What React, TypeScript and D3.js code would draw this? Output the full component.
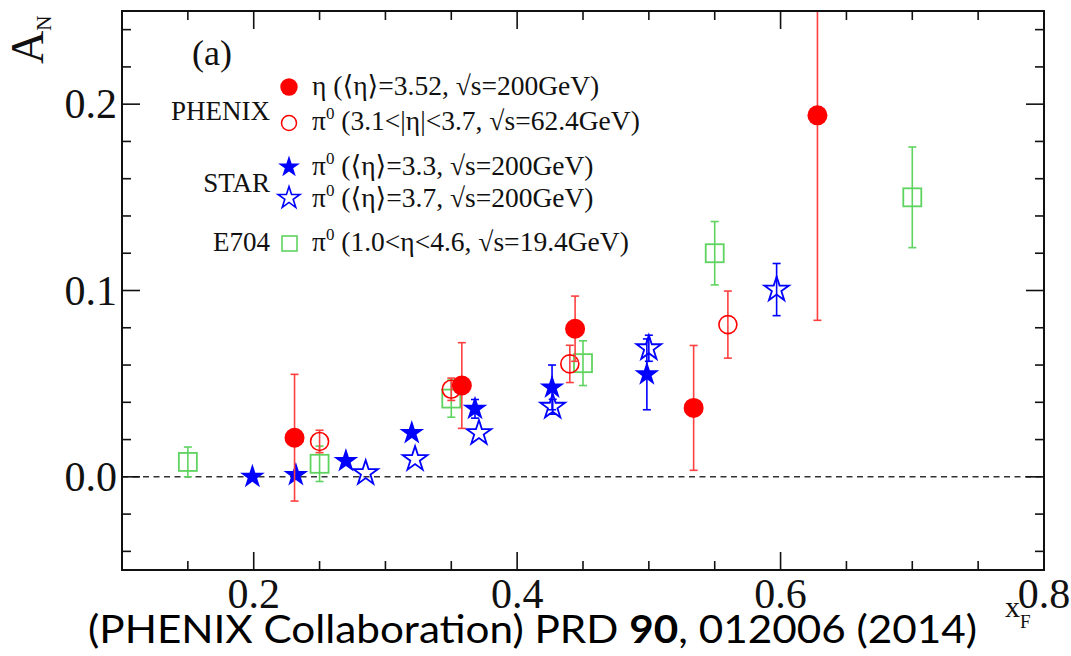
import React from "react";
import * as d3 from "d3";

// A_N vs x_F: [x_F, A_N, stat. error]
const phenixEta: [number, number, number][] = [
  [0.231, 0.021, 0.034],
  [0.358, 0.049, 0.023],
  [0.444, 0.0795, 0.0175],
  [0.534, 0.037, 0.0335],
  [0.628, 0.194, 0.11],
];
const phenixPi0: [number, number, number][] = [
  [0.25, 0.019, 0.006],
  [0.35, 0.047, 0.006],
  [0.44, 0.0606, 0.01],
  [0.56, 0.0817, 0.018],
];
const starPi0Low: [number, number, number][] = [
  [0.199, 0.0, 0],
  [0.232, 0.001, 0],
  [0.27, 0.0085, 0],
  [0.32, 0.0235, 0],
  [0.368, 0.0365, 0.005],
  [0.4265, 0.048, 0.012],
  [0.4985, 0.055, 0.019],
];
const starPi0High: [number, number, number][] = [
  [0.285, 0.002, 0],
  [0.3225, 0.0095, 0],
  [0.371, 0.0235, 0],
  [0.427, 0.0376, 0.004],
  [0.5, 0.069, 0.007],
  [0.597, 0.1005, 0.014],
];
const e704Pi0: [number, number, number][] = [
  [0.15, 0.008, 0.008],
  [0.25, 0.007, 0.0095],
  [0.35, 0.042, 0.01],
  [0.45, 0.061, 0.012],
  [0.55, 0.12, 0.017],
  [0.7, 0.15, 0.027],
];

const xMajor = [0.2, 0.4, 0.6, 0.8];
const xMinor = [0.15, 0.25, 0.3, 0.35, 0.45, 0.5, 0.55, 0.65, 0.7, 0.75];
const yMajor = [0.0, 0.1, 0.2];
const yMinor = [-0.04, -0.02, 0.02, 0.04, 0.06, 0.08, 0.12, 0.14, 0.16, 0.18, 0.22, 0.24];

const RED = "#ff0000";
const RED_ERR = "#ff4040";
const BLUE = "#0000ff";
const GREEN = "#5fd35f";
const SERIF = "'Liberation Serif', 'Times New Roman', 'DejaVu Serif', serif";

const W = 1071;
const H = 656;
const L = 122, R = 1044, T = 11, B = 570;

const x = d3.scaleLinear().domain([0.1, 0.8]).range([L, R]);
const y = d3.scaleLinear().domain([-0.05, 0.25]).range([B, T]);

const starPath = (outer: number) =>
  d3.symbol(d3.symbolStar, (outer * outer) / 0.8908130915292852)() as string;

function ErrorBars({ data, color }: { data: [number, number, number][]; color: string }) {
  return (
    <g stroke={color} strokeWidth={1.6} fill="none">
      {data
        .filter((d) => d[2] > 0)
        .map((d, i) => {
          const cx = x(d[0]);
          const top = Math.max(y(d[1] + d[2]), T);
          const bot = Math.min(y(d[1] - d[2]), B);
          return (
            <g key={i}>
              <line x1={cx} x2={cx} y1={top} y2={bot} />
              {y(d[1] + d[2]) >= T && <line x1={cx - 4} x2={cx + 4} y1={top} y2={top} />}
              {y(d[1] - d[2]) <= B && <line x1={cx - 4} x2={cx + 4} y1={bot} y2={bot} />}
            </g>
          );
        })}
    </g>
  );
}

function PiLabel({ yb, rest }: { yb: number; rest: string }) {
  return (
    <text x={312} y={yb}>
      π<tspan fontSize={17} dy={-11}>0</tspan>
      <tspan dy={11}>{" " + rest}</tspan>
    </text>
  );
}

export default function App() {
  const bigStar = starPath(13);
  const legStar = starPath(11.5);

  return (
    <svg
      width={W}
      height={H}
      viewBox={`0 0 ${W} ${H}`}
      style={{ position: "absolute", left: 0, top: 0, background: "#fff" }}
    >
      <rect x={0} y={0} width={W} height={H} fill="#fff" />
      <defs>
        <clipPath id="plotArea">
          <rect x={L} y={T} width={R - L} height={B - T} />
        </clipPath>
      </defs>

      {/* zero line */}
      <line
        x1={L}
        x2={R}
        y1={y(0)}
        y2={y(0)}
        stroke="#333"
        strokeWidth={1.5}
        strokeDasharray="6 4.5"
      />

      <g clipPath="url(#plotArea)">
        {/* E704 */}
        <ErrorBars data={e704Pi0} color={GREEN} />
        {e704Pi0.map((d, i) => (
          <rect
            key={i}
            x={x(d[0]) - 9}
            y={y(d[1]) - 9}
            width={18}
            height={18}
            fill="none"
            stroke={GREEN}
            strokeWidth={1.8}
          />
        ))}

        {/* STAR <eta>=3.7 */}
        <ErrorBars data={starPi0High} color={BLUE} />
        {starPi0High.map((d, i) => (
          <path
            key={i}
            d={bigStar}
            transform={`translate(${x(d[0])},${y(d[1])})`}
            fill="none"
            stroke={BLUE}
            strokeWidth={1.8}
          />
        ))}

        {/* STAR <eta>=3.3 */}
        <ErrorBars data={starPi0Low} color={BLUE} />
        {starPi0Low.map((d, i) => (
          <path
            key={i}
            d={bigStar}
            transform={`translate(${x(d[0])},${y(d[1])})`}
            fill={BLUE}
          />
        ))}

        {/* PHENIX pi0 */}
        <ErrorBars data={phenixPi0} color={RED_ERR} />
        {phenixPi0.map((d, i) => (
          <circle
            key={i}
            cx={x(d[0])}
            cy={y(d[1])}
            r={9}
            fill="none"
            stroke={RED}
            strokeWidth={1.6}
          />
        ))}

        {/* PHENIX eta */}
        <ErrorBars data={phenixEta} color={RED_ERR} />
        {phenixEta.map((d, i) => (
          <circle key={i} cx={x(d[0])} cy={y(d[1])} r={10} fill={RED} />
        ))}
      </g>

      {/* frame */}
      <rect x={L} y={T} width={R - L} height={B - T} fill="none" stroke="#111" strokeWidth={2} />

      {/* ticks */}
      <g stroke="#111" strokeWidth={1.6}>
        {xMajor.map((v) => (
          <g key={"xM" + v}>
            <line x1={x(v)} x2={x(v)} y1={B} y2={B - 18} />
            <line x1={x(v)} x2={x(v)} y1={T} y2={T + 18} />
          </g>
        ))}
        {xMinor.map((v) => (
          <g key={"xm" + v}>
            <line x1={x(v)} x2={x(v)} y1={B} y2={B - 9} />
            <line x1={x(v)} x2={x(v)} y1={T} y2={T + 9} />
          </g>
        ))}
        {yMajor.map((v) => (
          <g key={"yM" + v}>
            <line x1={L} x2={L + 18} y1={y(v)} y2={y(v)} />
            <line x1={R} x2={R - 18} y1={y(v)} y2={y(v)} />
          </g>
        ))}
        {yMinor.map((v) => (
          <g key={"ym" + v}>
            <line x1={L} x2={L + 9} y1={y(v)} y2={y(v)} />
            <line x1={R} x2={R - 9} y1={y(v)} y2={y(v)} />
          </g>
        ))}
      </g>

      {/* tick labels */}
      <g fontFamily={SERIF} fontSize={42} fill="#111">
        {yMajor.map((v) => (
          <text key={"yl" + v} x={117} y={y(v) + 14} textAnchor="end">
            {v.toFixed(1)}
          </text>
        ))}
        {xMajor.map((v) => (
          <text key={"xl" + v} x={x(v)} y={608} textAnchor="middle">
            {v.toFixed(1)}
          </text>
        ))}
      </g>

      {/* axis titles */}
      <g fontFamily={SERIF} fill="#111">
        <text transform="translate(43,64) rotate(-90)" fontSize={46}>
          A
          <tspan fontSize={21} dy={8}>
            N
          </tspan>
        </text>
        <text x={1005} y={617} fontSize={30}>
          x
          <tspan fontSize={19} dy={11}>
            F
          </tspan>
        </text>
        <text x={192} y={65} fontSize={36}>
          (a)
        </text>
      </g>

      {/* legend */}
      <g fontFamily={SERIF} fontSize={27.5} fill="#111">
        <text x={270} y={120} textAnchor="end" fontSize={27}>PHENIX</text>
        <text x={270} y={192} textAnchor="end" fontSize={27}>STAR</text>
        <text x={270} y={251} textAnchor="end" fontSize={27}>E704</text>

        <circle cx={289} cy={87} r={8.7} fill={RED} />
        <circle cx={289} cy={123} r={7.5} fill="none" stroke={RED} strokeWidth={1.5} />
        <path d={legStar} transform="translate(289,167)" fill={BLUE} />
        <path d={legStar} transform="translate(289,198)" fill="none" stroke={BLUE} strokeWidth={1.6} />
        <rect x={282} y={236} width={15} height={15} fill="none" stroke={GREEN} strokeWidth={1.6} />

        <text x={312} y={95}>
          η (⟨η⟩=3.52, √s=200GeV)
        </text>
        <PiLabel yb={130} rest="(3.1<|η|<3.7, √s=62.4GeV)" />
        <PiLabel yb={175} rest="(⟨η⟩=3.3, √s=200GeV)" />
        <PiLabel yb={207} rest="(⟨η⟩=3.7, √s=200GeV)" />
        <PiLabel yb={251} rest="(1.0<η<4.6, √s=19.4GeV)" />
      </g>

      {/* reference */}
      <text
        x={88}
        y={643}
        fontFamily="Lato, 'Open Sans', 'Liberation Sans', sans-serif"
        fontSize={38}
        fill="#000"
        textLength={889}
        lengthAdjust="spacingAndGlyphs"
      >
        (PHENIX Collaboration) PRD <tspan fontWeight="bold">90</tspan>, 012006 (2014)
      </text>
    </svg>
  );
}
